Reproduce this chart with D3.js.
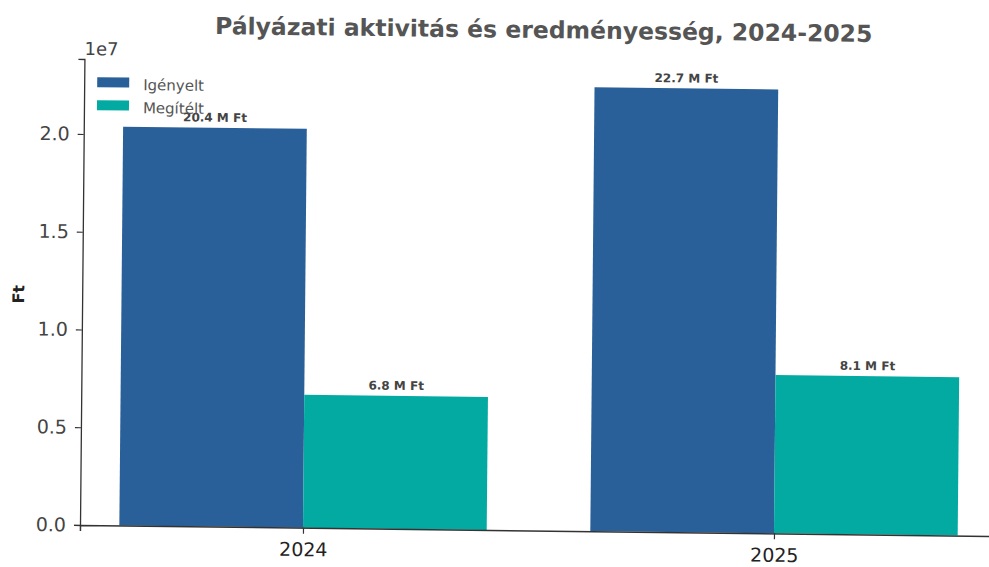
<!DOCTYPE html>
<html>
<head>
<meta charset="utf-8">
<script src="https://cdn.jsdelivr.net/npm/d3@7"></script>
<style>
  html, body { margin: 0; padding: 0; background: #fff; }
  svg { display: block; font-family: "DejaVu Sans", sans-serif; }
</style>
</head>
<body>
<svg id="chart" width="989" height="567"></svg>
<script>
const categories = ["2024", "2025"];
const seriesNames = ["Igényelt", "Megítélt"];
const requestedValues = [20.4e6, 22.7e6];
const awardedValues = [6.8e6, 8.1e6];
const yTickValues = [0, 0.5e7, 1.0e7, 1.5e7, 2.0e7];
const seriesColors = ["#2a6099", "#02aaa2"];
const titleText = "Pályázati aktivitás és eredményesség, 2024-2025";

(function () {
const svg = d3.select("#chart");
svg.append("rect").attr("width", 989).attr("height", 567).attr("fill", "#fff");

const plotLeft = 80, plotRight = 997, plotTop = 59, plotBottom = 525;
// slight skew/tilt like the scanned original
const g = svg.append("g")
  .attr("transform", `translate(${plotLeft},${plotBottom}) matrix(1,0.012,-0.0095,1,0,0) translate(${-plotLeft},${-plotBottom})`);

const yMax = d3.max(requestedValues.concat(awardedValues)) * 1.05;
const y = d3.scaleLinear().domain([0, yMax]).range([plotBottom, plotTop]);
const x = d3.scalePoint().domain(categories).range([plotLeft, plotRight]).padding(0.4735);
const barW = x.step() * 0.39;

const rows = categories.map((c, i) => ({ cat: c, values: [requestedValues[i], awardedValues[i]] }));

rows.forEach(r => {
  r.values.forEach((v, si) => {
    const x0 = si === 0 ? x(r.cat) - barW : x(r.cat);
    g.append("rect")
      .attr("x", x0).attr("width", barW)
      .attr("y", y(v)).attr("height", y(0) - y(v))
      .attr("fill", seriesColors[si]);
    g.append("text")
      .attr("x", x0 + barW / 2).attr("y", y(v) - 6)
      .attr("text-anchor", "middle")
      .attr("font-size", 12).attr("font-weight", "bold")
      .attr("fill", "#444")
      .text((v / 1e6).toFixed(1) + " M Ft");
  });
});

const yAxis = g.append("g").attr("transform", `translate(${plotLeft},0)`)
  .call(d3.axisLeft(y).tickValues(yTickValues).tickFormat(d => (d / 1e7).toFixed(1)).tickSizeOuter(0).tickSize(6).tickPadding(8));
yAxis.select(".domain").attr("stroke", "#333").attr("stroke-width", 1.3);
yAxis.selectAll(".tick line").attr("stroke", "#333").attr("stroke-width", 1.2);
yAxis.selectAll(".tick text").attr("font-size", 19).attr("fill", "#444").attr("font-family", "DejaVu Sans");

const xAxis = g.append("g").attr("transform", `translate(0,${plotBottom})`)
  .call(d3.axisBottom(x).tickSizeOuter(0).tickSize(6).tickPadding(9));
xAxis.select(".domain").attr("stroke", "#333").attr("stroke-width", 1.5);
xAxis.selectAll(".tick line").attr("stroke", "#333").attr("stroke-width", 1.2);
xAxis.selectAll(".tick text").attr("font-size", 19).attr("fill", "#222").attr("font-family", "DejaVu Sans");

g.append("text").attr("x", 80).attr("y", 55)
  .attr("font-size", 18).attr("fill", "#444").text("1e7");

g.append("text")
  .attr("transform", `translate(22,295) rotate(-90)`)
  .attr("text-anchor", "middle")
  .attr("font-size", 16).attr("font-weight", "bold").attr("fill", "#222")
  .text("Ft");

g.append("text").attr("x", 539).attr("y", 32.5)
  .attr("text-anchor", "middle")
  .attr("font-size", 23.5).attr("font-weight", "bold").attr("fill", "#555")
  .text(titleText);

seriesNames.forEach((name, i) => {
  const ly = 77 + i * 23;
  g.append("rect").attr("x", 93).attr("y", ly).attr("width", 32).attr("height", 10)
    .attr("fill", seriesColors[i]);
  g.append("text").attr("x", 139).attr("y", ly + 8)
    .attr("dominant-baseline", "middle")
    .attr("font-size", 15).attr("fill", "#555")
    .text(name);
});
})();
</script>
</body>
</html>
